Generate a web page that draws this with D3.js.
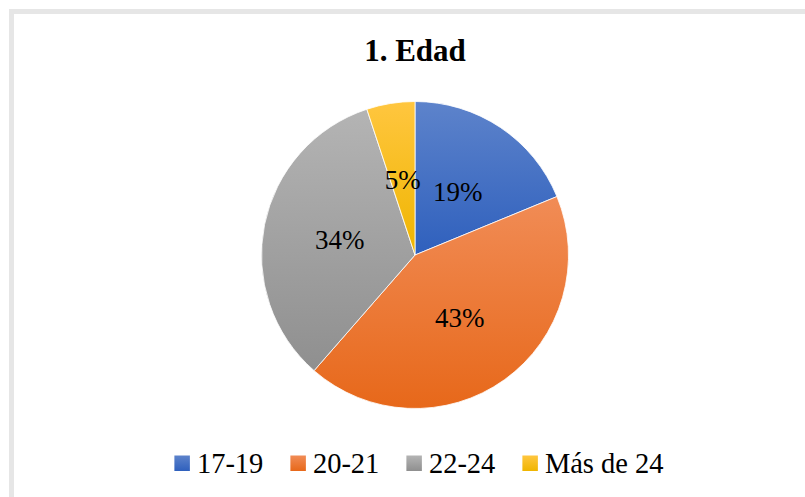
<!DOCTYPE html>
<html>
<head>
<meta charset="utf-8">
<script src="https://cdn.jsdelivr.net/npm/d3@7"></script>
<style>
  body { margin: 0; background: #fff; }
  svg { display: block; }
  text { font-family: "Liberation Serif", "Times New Roman", serif; fill: #000; }
</style>
</head>
<body>
<div id="chart"></div>
<script>
// chart data
var categories = ["17-19", "20-21", "22-24", "Más de 24"];
var counts = [37, 84, 66, 10];
var title = "1. Edad";

// gradient colours (top, bottom) for each slice
var topColors = ["#5d83cb", "#f18c56", "#b4b4b4", "#ffc63f"];
var bottomColors = ["#2f60bd", "#e7681a", "#8f8f8f", "#efb500"];

var svgWidth = 805;
var svgHeight = 497;
var cx = 415, cy = 255, radius = 153.5;

var svg = d3.select("#chart")
  .append("svg")
  .attr("width", svgWidth)
  .attr("height", svgHeight);

// outer frame (cut off at right and bottom)
svg.append("rect")
  .attr("x", 11.5)
  .attr("y", 11.5)
  .attr("width", 900)
  .attr("height", 600)
  .attr("fill", "none")
  .attr("stroke", "#e6e6e6")
  .attr("stroke-width", 5);

// gradients
var defs = svg.append("defs");
categories.forEach(function(c, i) {
  var g = defs.append("linearGradient")
    .attr("id", "grad" + i)
    .attr("x1", 0).attr("y1", 0)
    .attr("x2", 0).attr("y2", 1);
  g.append("stop").attr("offset", "0%").attr("stop-color", topColors[i]);
  g.append("stop").attr("offset", "100%").attr("stop-color", bottomColors[i]);
});

// title
svg.append("text")
  .attr("x", cx)
  .attr("y", 61)
  .attr("text-anchor", "middle")
  .attr("font-size", "31px")
  .attr("font-weight", "bold")
  .text(title);

var total = d3.sum(counts);
var data = categories.map(function(c, i) { return { cat: c, value: counts[i], i: i }; });

var pie = d3.pie()
  .value(d => d.value)
  .sort(null);

var arc = d3.arc()
  .innerRadius(0)
  .outerRadius(radius);

var labelArc = d3.arc()
  .innerRadius(radius * 0.5)
  .outerRadius(radius * 0.5);

var pieGroup = svg.append("g")
  .attr("transform", `translate(${cx}, ${cy})`);

var arcs = pie(data);

pieGroup.selectAll("path")
  .data(arcs)
  .enter()
  .append("path")
  .attr("d", arc)
  .attr("fill", d => `url(#grad${d.data.i})`)
  .attr("stroke", "#fff")
  .attr("stroke-width", 0.8);

pieGroup.selectAll(".pieLabel")
  .data(arcs)
  .enter()
  .append("text")
  .classed("pieLabel", true)
  .attr("transform", d => `translate(${labelArc.centroid(d)})`)
  .attr("text-anchor", "middle")
  .attr("dy", "0.35em")
  .attr("font-size", "27px")
  .text(d => Math.round(d.data.value / total * 100) + "%");

// legend
var legend = svg.append("g");
var sq = 15.5, gapText = 7, gapItem = 27;
var items = legend.selectAll("g")
  .data(categories)
  .enter()
  .append("g");

items.append("rect")
  .attr("width", sq)
  .attr("height", sq)
  .attr("y", 455.5)
  .attr("fill", (d, i) => `url(#grad${i})`);

items.append("text")
  .attr("x", sq + gapText)
  .attr("y", 472.5)
  .attr("font-size", "28.5px")
  .text(d => d);

var xPos = 0;
items.each(function() {
  var w = d3.select(this).select("text").node().getComputedTextLength();
  d3.select(this).attr("transform", `translate(${xPos}, 0)`);
  xPos += sq + gapText + w + gapItem;
});
var legendWidth = xPos - gapItem;
legend.attr("transform", `translate(${419 - legendWidth / 2}, 0)`);
</script>
</body>
</html>
